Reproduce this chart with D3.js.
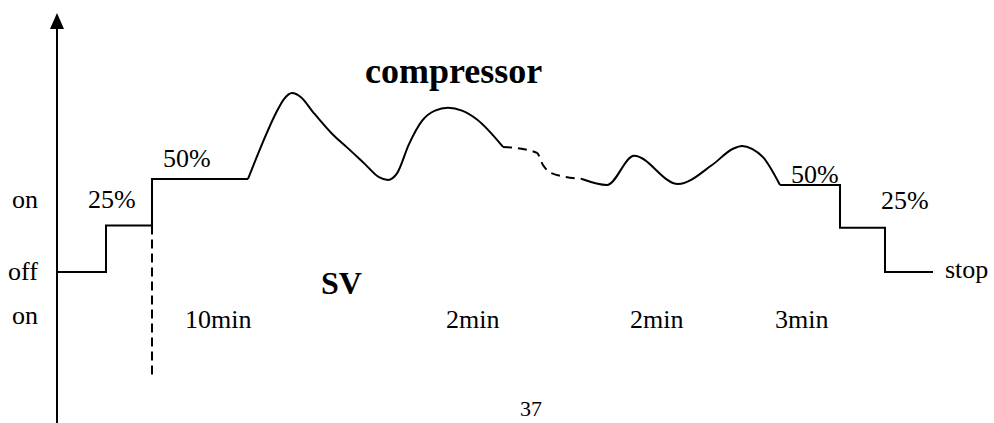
<!DOCTYPE html>
<html>
<head>
<meta charset="utf-8">
<script src="https://cdn.jsdelivr.net/npm/d3@7"></script>
<style>
  html, body { margin: 0; padding: 0; background: #fff; }
  svg { display: block; }
  text { font-family: "Liberation Serif", "Times New Roman", serif; fill: #000; }
</style>
</head>
<body>
<svg id="chart" width="994" height="423"></svg>
<script>
// ---- data (x: time units, y: capacity level; 0 = off, 1 = 25%, 2 = 50%) ----
const leftSteps = [[0, 0], [49, 0], [49, 1], [95, 1], [95, 2], [191, 2]];
const compressorA = [[191, 2], [206, 2.8], [219, 3.42], [227, 3.72], [235, 3.85], [244, 3.76], [256, 3.44], [276, 2.95], [290, 2.68], [308, 2.32], [322, 2.04], [331, 1.98], [340, 2.12], [352, 2.75], [365, 3.25], [378, 3.47], [391, 3.53], [405, 3.47], [420, 3.28], [446, 2.69]];
const compressorDashed = [[446, 2.69], [458, 2.67], [480, 2.56], [486, 2.3], [494, 2.13], [525, 2.0]];
const compressorB = [[525, 2.0], [550, 1.87], [577, 2.5], [621, 1.89], [655, 2.3], [676, 2.65], [685, 2.71], [695, 2.65], [706, 2.47], [723, 1.87]];
const rightSteps = [[723, 1.87], [783, 1.87], [783, 0.95], [828, 0.95], [828, 0], [876, 0]];
const svDashed = [[95, 1], [95, -2.26]];
const axisRange = [-3.25, 5.57];
const labels = [
  { t: "on", x: -45, y: 1.38 },
  { t: "off", x: -49, y: -0.17 },
  { t: "on", x: -45, y: -1.12 },
  { t: "25%", x: 31, y: 1.38 },
  { t: "50%", x: 106, y: 2.26 },
  { t: "10min", x: 128, y: -1.2 },
  { t: "2min", x: 389, y: -1.2 },
  { t: "2min", x: 573, y: -1.2 },
  { t: "3min", x: 718, y: -1.2 },
  { t: "50%", x: 734, y: 1.91 },
  { t: "25%", x: 824, y: 1.36 },
  { t: "stop", x: 888, y: -0.13 }
];
const boldLabels = [
  { t: "compressor", x: 308, y: 4.06, size: 36 },
  { t: "SV", x: 264, y: -0.47, size: 32 }
];
const pageNumber = { t: "37", x: 463, y: -3.1 };

// ---- scales ----
const x = d3.scaleLinear().domain([0, 900]).range([57, 957]);
const y = d3.scaleLinear().domain([0, 4]).range([272, 86]);

const svg = d3.select("#chart");
const line = d3.line().x(d => x(d[0])).y(d => y(d[1]));
const curve = d3.line().x(d => x(d[0])).y(d => y(d[1])).curve(d3.curveMonotoneX);

// axis
svg.append("line")
  .attr("x1", x(0)).attr("x2", x(0))
  .attr("y1", y(axisRange[0])).attr("y2", y(axisRange[1]) + 12)
  .attr("stroke", "#000").attr("stroke-width", 2);
const tipY = y(axisRange[1]);
svg.append("path")
  .attr("d", `M${x(0)},${tipY} L${x(0) - 7},${tipY + 16} L${x(0) + 7},${tipY + 16} Z`)
  .attr("fill", "#000");

const solid = (sel, d, gen) => sel.append("path").attr("d", gen(d))
  .attr("fill", "none").attr("stroke", "#000").attr("stroke-width", 2)
  .attr("stroke-linejoin", "miter").attr("stroke-linecap", "butt");

solid(svg, leftSteps, line);
solid(svg, compressorA, curve);
solid(svg, compressorDashed, curve).attr("stroke-dasharray", "9,6");
solid(svg, compressorB, curve);
solid(svg, rightSteps, line);
solid(svg, svDashed, line).attr("stroke-dasharray", "9,5");

// labels
svg.selectAll("text.lbl").data(labels).join("text")
  .attr("class", "lbl")
  .attr("x", d => x(d.x)).attr("y", d => y(d.y))
  .attr("font-size", 26)
  .text(d => d.t);

svg.selectAll("text.bold").data(boldLabels).join("text")
  .attr("class", "bold")
  .attr("x", d => x(d.x)).attr("y", d => y(d.y))
  .attr("font-size", d => d.size)
  .attr("font-weight", "bold")
  .text(d => d.t);

svg.append("text")
  .attr("x", x(pageNumber.x)).attr("y", y(pageNumber.y))
  .attr("font-size", 22)
  .text(pageNumber.t);
</script>
</body>
</html>
